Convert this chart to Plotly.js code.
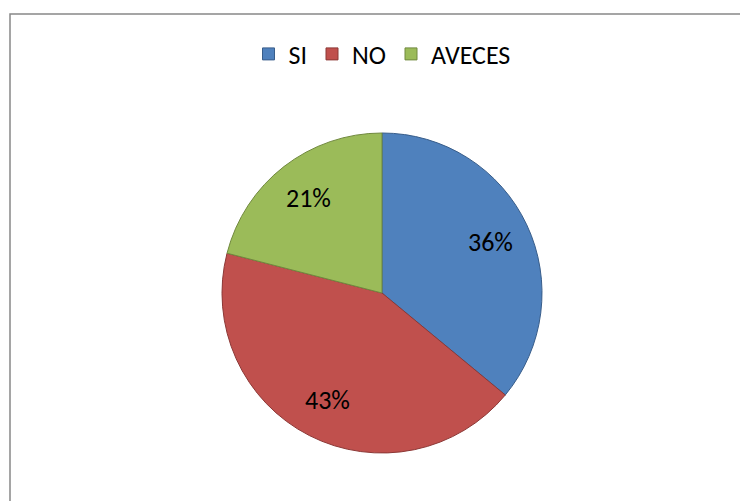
<!DOCTYPE html>
<html>
<head>
<meta charset="utf-8">
<script src="https://cdn.plot.ly/plotly-3.0.1.min.js"></script>
<style>html,body{margin:0;padding:0;background:#fff;}#chart{width:740px;height:501px;}</style>
</head>
<body>
<div id="chart"></div>
<script>
var labels = ["SI", "NO", "AVECES"];
var values = [36, 43, 21];
var colors = ["#4F81BD", "#C0504D", "#9BBB59"];
var borderColors = ["#385D8A", "#8C3836", "#71893F"];

var W = 740, H = 501;
var cxPx = 382, cyPx = 293, rPx = 160;
var FONT = "Carlito, Calibri, 'Open Sans', sans-serif";

var trace = {
  type: "pie",
  labels: labels,
  values: values,
  sort: false,
  direction: "clockwise",
  rotation: 0,
  marker: {colors: colors, line: {color: borderColors, width: 1}},
  textinfo: "none",
  hoverinfo: "label+percent",
  domain: {x: [(cxPx - rPx)/W, (cxPx + rPx)/W], y: [1 - (cyPx + rPx)/H, 1 - (cyPx - rPx)/H]}
};

// percent labels placed along each slice's mid-angle (derived from the values)
var total = values.reduce(function(a, b){ return a + b; }, 0);
var annotations = [];
var cum = 0;
for (var i = 0; i < values.length; i++) {
  var mid = (cum + values[i] / 2) / total * 2 * Math.PI;
  cum += values[i];
  var rf = 0.75 * rPx;
  annotations.push({
    xref: "paper", yref: "paper",
    x: (cxPx + rf * Math.sin(mid)) / W,
    y: 1 - (cyPx - rf * Math.cos(mid)) / H,
    text: Math.round(values[i] / total * 100) + "%",
    showarrow: false,
    xanchor: "center", yanchor: "middle",
    font: {family: FONT, size: 26, color: "#000"}
  });
}

var layout = {
  width: W,
  height: H,
  margin: {l: 0, r: 0, t: 0, b: 0},
  paper_bgcolor: "#fff",
  plot_bgcolor: "#fff",
  showlegend: true,
  legend: {
    orientation: "h",
    x: 382/W, xanchor: "center",
    y: 1 - 54/H, yanchor: "middle",
    font: {family: FONT, size: 26, color: "#000"},
    itemwidth: 30,
    traceorder: "normal"
  },
  annotations: annotations,
  shapes: [{
    type: "rect", xref: "paper", yref: "paper",
    x0: 10/W, x1: 1.05, y0: -0.05, y1: 1 - 14/H,
    line: {color: "#888", width: 1.5}
  }]
};

Plotly.newPlot("chart", [trace], layout, {displayModeBar: false, staticPlot: true});
</script>
</body>
</html>
